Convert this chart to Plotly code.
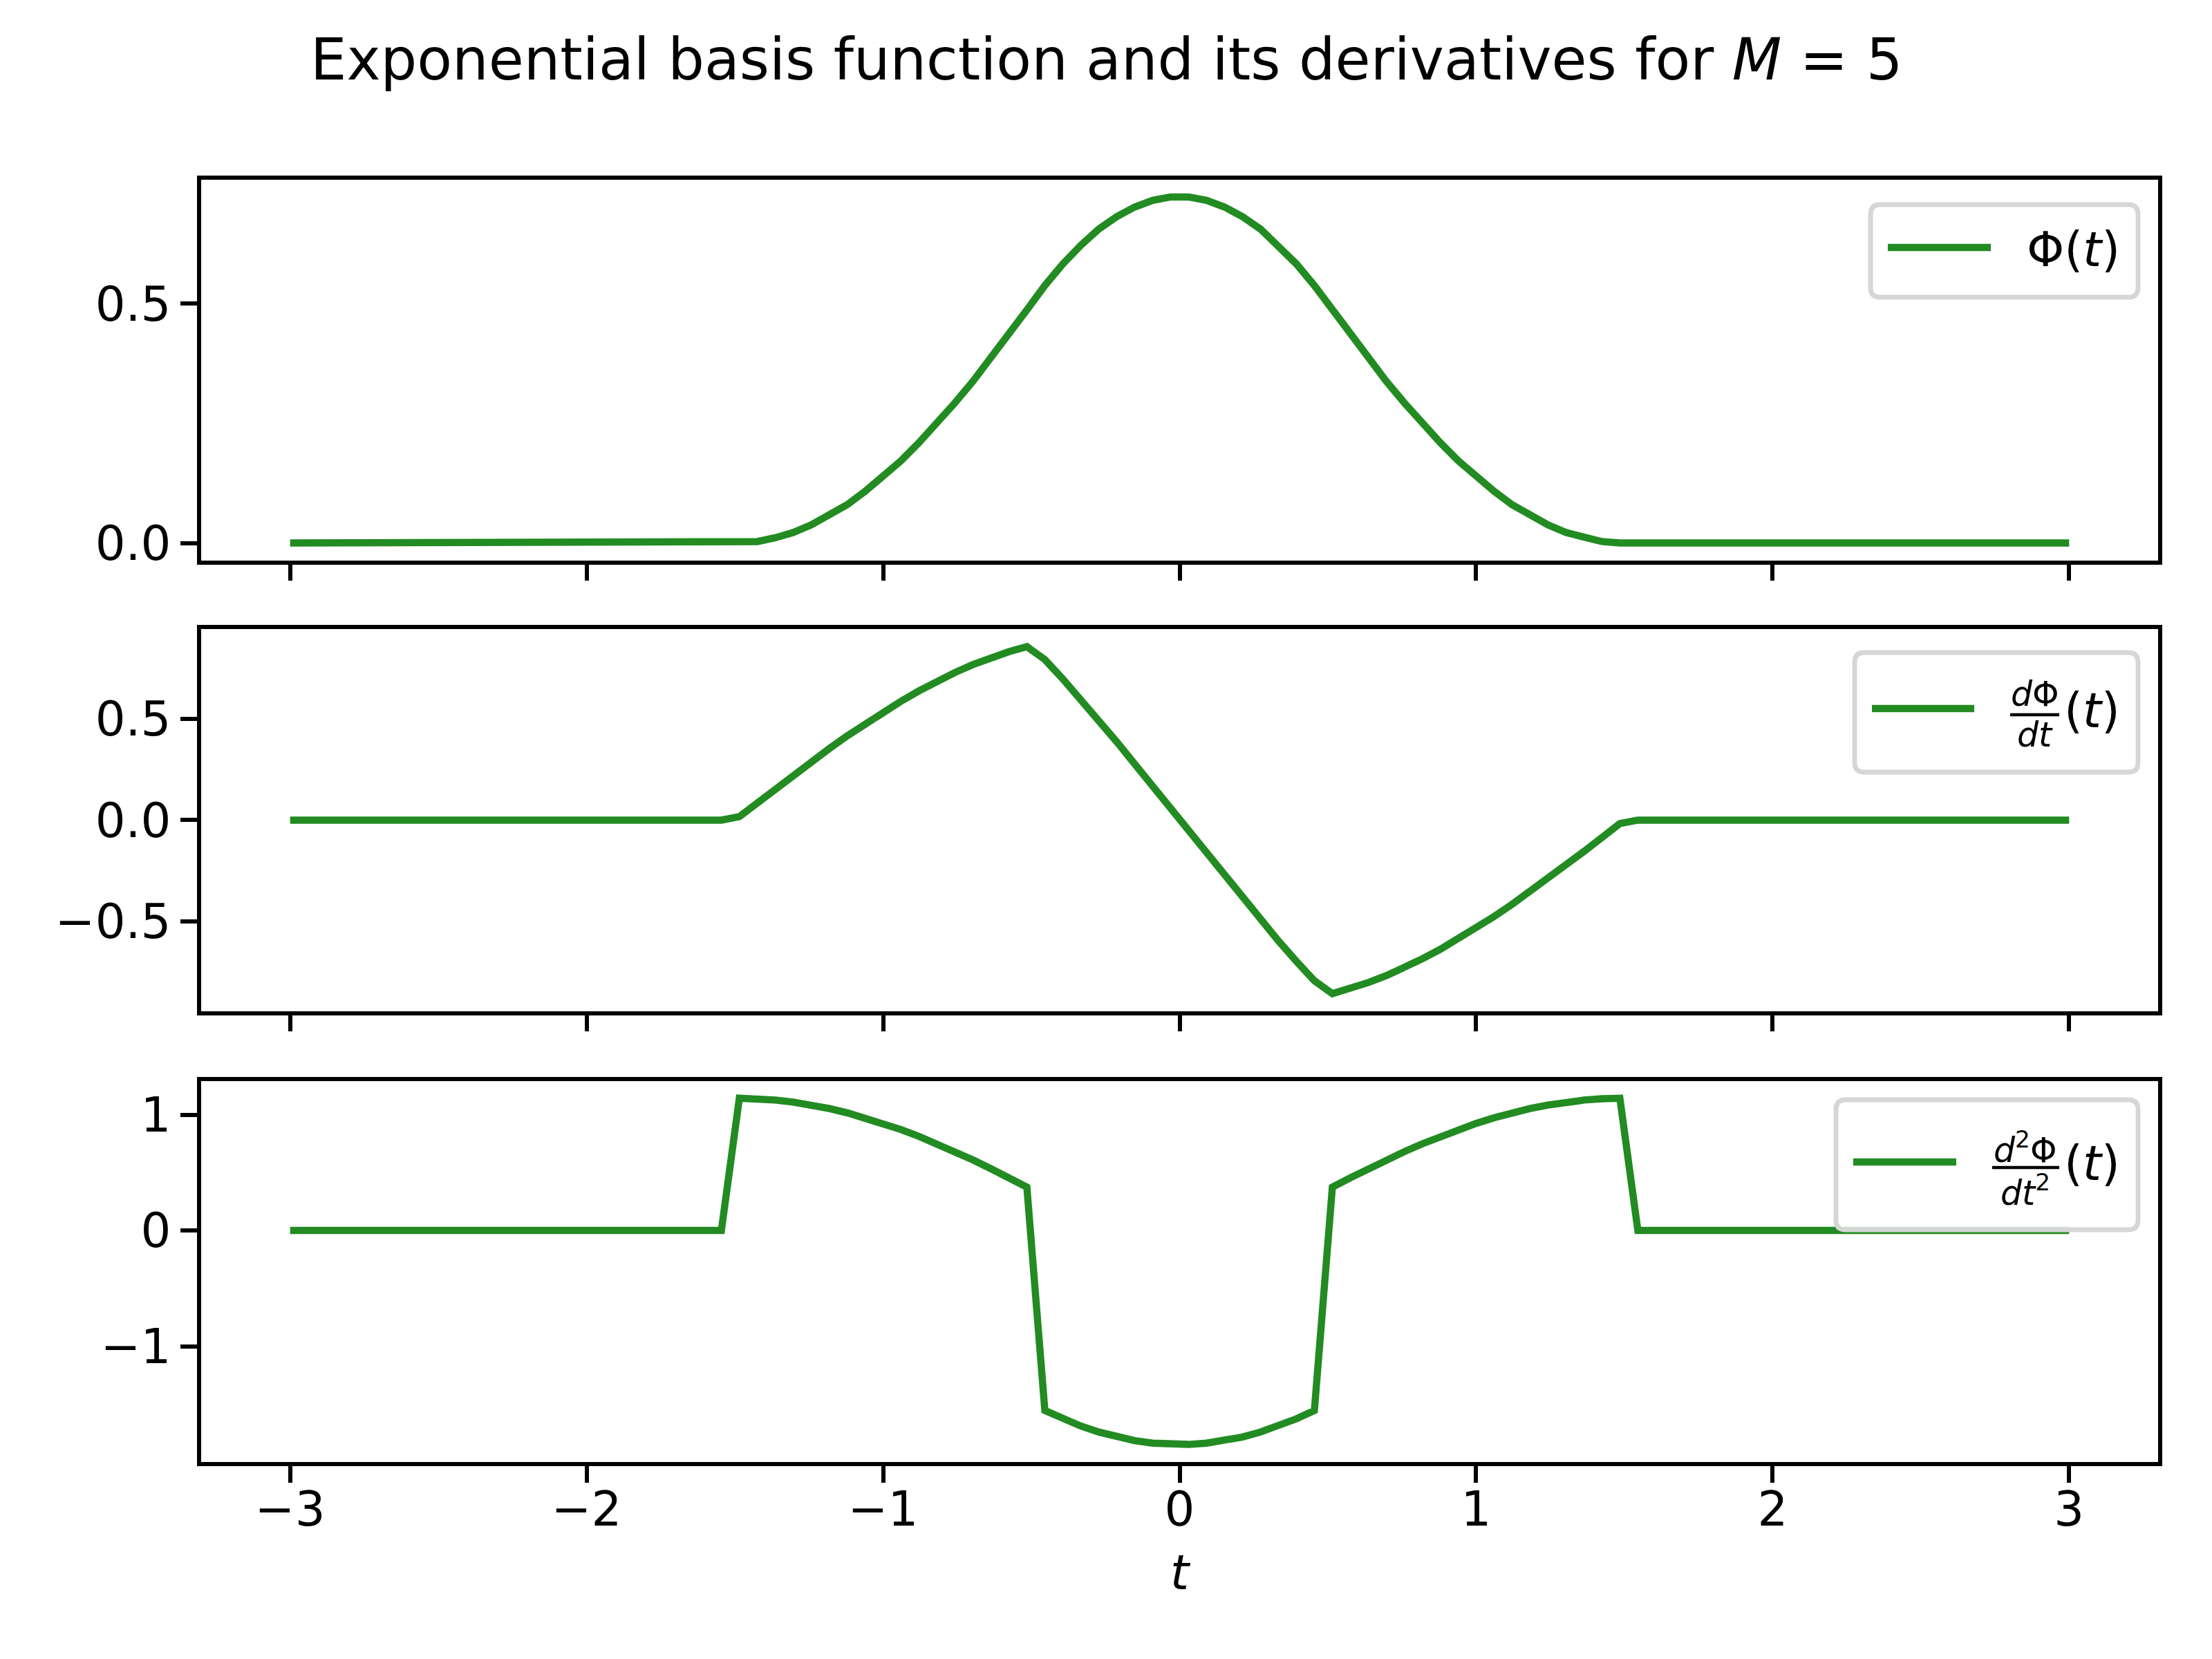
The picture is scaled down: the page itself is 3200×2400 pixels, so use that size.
import numpy as np
import plotly.graph_objects as go

W, H = 3200, 2400
GREEN = "#228B22"
FONT = "DejaVu Sans"

# sampling grid of the curves (100 samples on [-3, 3])
t = np.linspace(-3, 3, 100)

# values
phi_left = [0.000, 0.003, 0.011, 0.022, 0.038, 0.057, 0.080, 0.108, 0.138, 0.172,
            0.210, 0.250, 0.293, 0.338, 0.386, 0.436, 0.487, 0.538, 0.583, 0.622,
            0.656, 0.682, 0.702, 0.716, 0.723]
phi_right = [0.723, 0.716, 0.702, 0.682, 0.656, 0.622, 0.583, 0.538, 0.487, 0.436,
             0.386, 0.338, 0.293, 0.250, 0.210, 0.172, 0.138, 0.108, 0.080, 0.057,
             0.038, 0.022, 0.011, 0.003, 0.000]
dphi_left = [0.017, 0.086, 0.155, 0.223, 0.289, 0.354, 0.417, 0.477, 0.534, 0.589,
             0.640, 0.687, 0.731, 0.770, 0.804, 0.834, 0.859, 0.795, 0.699, 0.598,
             0.494, 0.388, 0.278, 0.168, 0.056]
dphi_right = [-0.056, -0.168, -0.278, -0.388, -0.494, -0.598, -0.699, -0.795, -0.859, -0.834,
              -0.804, -0.770, -0.731, -0.687, -0.640, -0.589, -0.534, -0.477, -0.417, -0.354,
              -0.289, -0.223, -0.155, -0.086, -0.017]
d2phi_left = [1.142, 1.137, 1.126, 1.108, 1.083, 1.053, 1.016, 0.973, 0.924, 0.871,
              0.812, 0.748, 0.680, 0.609, 0.533, 0.455, 0.374, -1.555, -1.627, -1.689,
              -1.741, -1.784, -1.815, -1.837, -1.848]
d2phi_right = [-1.848, -1.837, -1.815, -1.784, -1.741, -1.689, -1.627, -1.555, 0.374, 0.455,
               0.533, 0.609, 0.680, 0.748, 0.812, 0.871, 0.924, 0.973, 1.016, 1.053,
               1.083, 1.108, 1.126, 1.137, 1.142]
zeros25 = [0.0] * 25

phi = zeros25 + phi_left + phi_right + zeros25
dphi = zeros25 + dphi_left + dphi_right + zeros25
d2phi = zeros25 + d2phi_left + d2phi_right + zeros25

x_ticks = [-3, -2, -1, 0, 1, 2, 3]
y_ticks_top = [0.0, 0.5]
y_ticks_mid = [-0.5, 0.0, 0.5]
y_ticks_bot = [-1, 0, 1]

title_text = "Exponential basis function and its derivatives for <i>M</i> = 5"


def px(x):
    return x / W


def py(y):
    return 1 - y / H


X0, X1 = px(291), px(3122)
DOM_TOP = [py(810.6), py(259.5)]
DOM_MID = [py(1462.6), py(910.3)]
DOM_BOT = [py(2114.7), py(1563.6)]

LW_AX = 5.6
TICKLEN = 24
TICKFONT = dict(family=FONT, size=69, color="black")

fig = go.Figure()
fig.add_trace(go.Scatter(x=t, y=phi, mode="lines", line=dict(color=GREEN, width=10.4),
                         xaxis="x", yaxis="y", showlegend=False, name="Φ(t)"))
fig.add_trace(go.Scatter(x=t, y=dphi, mode="lines", line=dict(color=GREEN, width=10.4),
                         xaxis="x2", yaxis="y2", showlegend=False, name="dΦ/dt(t)"))
fig.add_trace(go.Scatter(x=t, y=d2phi, mode="lines", line=dict(color=GREEN, width=10.4),
                         xaxis="x3", yaxis="y3", showlegend=False, name="d²Φ/dt²(t)"))


def xax(anchor, labels):
    d = dict(domain=[X0, X1], range=[-3.3, 3.3], tickvals=x_ticks, ticks="outside",
             ticklen=TICKLEN, tickwidth=LW_AX, tickcolor="black", showline=True,
             linecolor="black", linewidth=LW_AX, mirror=True, showgrid=False,
             zeroline=False, tickfont=TICKFONT, showticklabels=labels, anchor=anchor,
             automargin=False, tickformat="d")
    return d


def yax(anchor, dom, rng, tv, fmt):
    return dict(domain=dom, range=rng, tickvals=tv, ticks="outside", ticklen=TICKLEN,
                tickwidth=LW_AX, tickcolor="black", showline=True, linecolor="black",
                linewidth=LW_AX, mirror=True, showgrid=False, zeroline=False,
                tickfont=TICKFONT, anchor=anchor, automargin=False, tickformat=fmt)


xa3 = xax("y3", True)
xa3["ticklabelstandoff"] = -20
xa3["title"] = dict(text="<i>t</i>", font=dict(family=FONT, size=69, color="black"), standoff=30)

fig.update_layout(
    width=W, height=H,
    margin=dict(l=0, r=0, t=0, b=0),
    paper_bgcolor="white", plot_bgcolor="white",
    font=dict(family=FONT, color="black"),
    xaxis=xax("y", False),
    xaxis2=xax("y2", False),
    xaxis3=xa3,
    yaxis=yax("x", DOM_TOP, [-0.0362, 0.7598], y_ticks_top, ".1f"),
    yaxis2=yax("x2", DOM_MID, [-0.945, 0.945], y_ticks_mid, ".1f"),
    yaxis3=yax("x3", DOM_BOT, [-1.998, 1.292], y_ticks_bot, "d"),
    showlegend=False,
)

shapes = []
annotations = []


def rrect(x0, y0, x1, y1, r):
    pts = [
        ("M", (x0 + r, y0)), ("L", (x1 - r, y0)), ("Q", (x1, y0), (x1, y0 + r)),
        ("L", (x1, y1 - r)), ("Q", (x1, y1), (x1 - r, y1)), ("L", (x0 + r, y1)),
        ("Q", (x0, y1), (x0, y1 - r)), ("L", (x0, y0 + r)), ("Q", (x0, y0), (x0 + r, y0)),
    ]
    s = ""
    for item in pts:
        cmd = item[0]
        coords = " ".join(f"{px(a):.6f},{py(b):.6f}" for a, b in item[1:])
        s += f"{cmd} {coords} "
    return s + "Z"


def legend_box(x0, y0, x1, y1):
    shapes.append(dict(type="path", path=rrect(x0, y0, x1, y1, 14), xref="paper", yref="paper",
                       line=dict(color="#d6d6d6", width=6.9), fillcolor="rgba(255,255,255,0.8)",
                       layer="above"))


def legend_line(x0, x1, y):
    shapes.append(dict(type="line", x0=px(x0), x1=px(x1), y0=py(y), y1=py(y), xref="paper",
                       yref="paper", line=dict(color=GREEN, width=10.4), layer="above"))


def text(x, y, s, size, xanchor="left"):
    annotations.append(dict(x=px(x), y=py(y), xref="paper", yref="paper", text=s,
                            showarrow=False, xanchor=xanchor, yanchor="middle",
                            font=dict(family=FONT, size=size, color="black")))


def bar(x0, x1, y):
    shapes.append(dict(type="line", x0=px(x0), x1=px(x1), y0=py(y), y1=py(y), xref="paper",
                       yref="paper", line=dict(color="black", width=4.5), layer="above"))


# legend 1
legend_box(2706, 296, 3093, 430)
legend_line(2731, 2880, 358)
text(2930, 361, "Φ(<i>t</i>)", 69)

# legend 2
legend_box(2683, 944, 3093, 1117)
legend_line(2708, 2856, 1025)
text(2943.5, 1005, "<i>d</i>Φ", 49, "center")
bar(2908, 2979, 1034)
text(2943.5, 1063, "<i>dt</i>", 49, "center")
text(2984, 1028, "(<i>t</i>)", 69)

# legend 3
legend_box(2656, 1591, 3093, 1779)
legend_line(2681, 2830, 1681)
text(2930, 1660, "<i>d</i><sup>2</sup>Φ", 49, "center")
bar(2882, 2979, 1689)
text(2930, 1722, "<i>dt</i><sup>2</sup>", 49, "center")
text(2984, 1683, "(<i>t</i>)", 69)

# title
annotations.append(dict(x=0.5, y=py(86), xref="paper", yref="paper", text=title_text,
                        showarrow=False, xanchor="center", yanchor="middle",
                        font=dict(family=FONT, size=83, color="black")))

fig.update_layout(shapes=shapes, annotations=annotations)
fig.write_html("out.html", config={"displayModeBar": False},
               post_script="document.body.style.margin='0px';")
